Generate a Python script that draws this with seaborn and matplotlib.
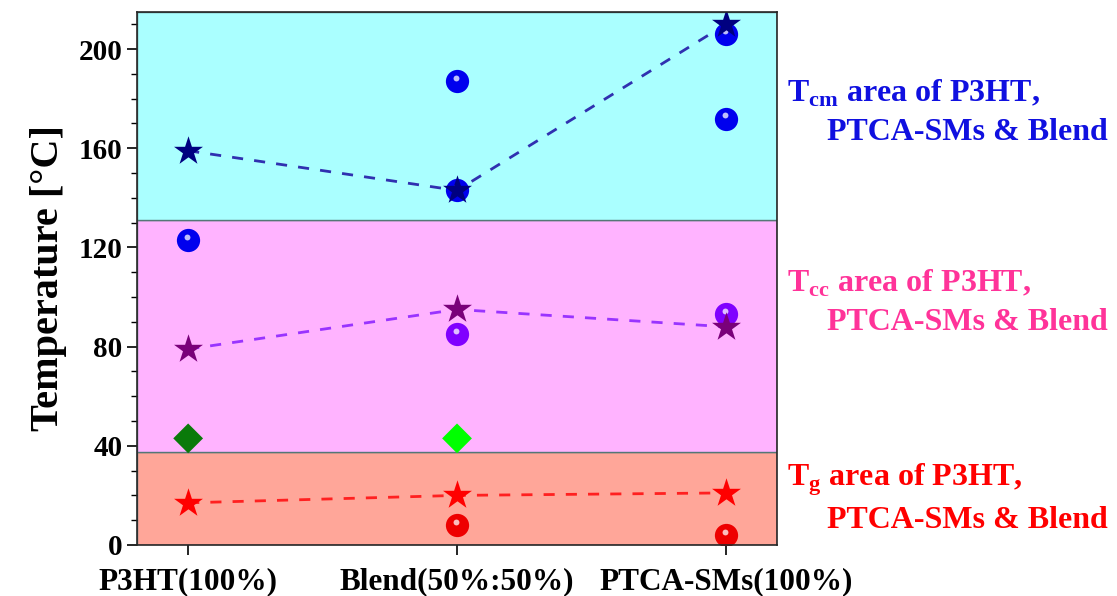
import numpy as np
import pandas as pd
import seaborn as sns
import matplotlib.pyplot as plt


CATEGORIES = ["P3HT(100%)", "Blend(50%:50%)", "PTCA-SMs(100%)"]

# stars joined by dashed lines
TCM_STARS = [159, 143, 210]
TCC_STARS = [79, 95, 88]
TG_STARS = [17, 20, 21]

# sphere markers (category index, value)
BLUE_SPHERE_X = [0, 1, 1, 2, 2]
BLUE_SPHERE_Y = [123, 187, 143, 206, 172]
VIOLET_SPHERE_X = [1, 2]
VIOLET_SPHERE_Y = [85, 93]
RED_SPHERE_X = [1, 2]
RED_SPHERE_Y = [8, 4]

# diamonds
DIAMOND_X = [0, 1]
DIAMOND_Y = [43, 43]
DIAMOND_COLORS = ["#0a7a0a", "#00ff00"]

# temperature bands
BANDS = [(0, 37.5, "#ffa699"), (37.5, 131, "#ffb3ff"), (131, 215, "#aaffff")]

AREA_LABELS = [r"T$_{\mathregular{cm}}$ area of P3HT,", r"T$_{\mathregular{cc}}$ area of P3HT,",
               r"T$_{\mathregular{g}}$ area of P3HT,"]
AREA_COLORS = ["#1010e0", "#ff3399", "#ff0000"]


def sphere(ax, xs, ys, color):
  sns.scatterplot(x=xs, y=ys, ax=ax, color=color, s=280, marker="o",
                  edgecolor=color, linewidth=0, zorder=4)
  hx = np.array(xs, dtype=float) - 0.004
  hy = np.array(ys, dtype=float) + 1.4
  ax.scatter(hx, hy, s=18, color="white", alpha=0.75, linewidth=0, zorder=5)


def main():
  sns.set_style("ticks")
  plt.rcParams["font.family"] = ["Liberation Serif", "DejaVu Serif"]
  plt.rcParams["mathtext.fontset"] = "custom"
  plt.rcParams["mathtext.rm"] = "Liberation Serif:bold"
  plt.rcParams["text.color"] = "black"
  plt.rcParams["axes.labelcolor"] = "black"
  plt.rcParams["xtick.color"] = "black"
  plt.rcParams["ytick.color"] = "black"

  fig = plt.figure(figsize=(11.17, 5.96), dpi=100)
  ax = fig.add_axes([0.1227, 0.0856, 0.5729, 0.8944])

  for lo, hi, c in BANDS:
    ax.axhspan(lo, hi, facecolor=c, edgecolor="#557777", linewidth=1.0, zorder=0)

  x = np.arange(len(CATEGORIES))
  lines = [(TCM_STARS, "#3030b0", "#000080"),
           (TCC_STARS, "#9933ff", "#7a007a"),
           (TG_STARS, "#ff2020", "#ff0000")]
  for vals, lc, sc in lines:
    df = pd.DataFrame({"x": x, "y": vals})
    sns.lineplot(data=df, x="x", y="y", ax=ax, color=lc, linestyle=(0, (4, 4)),
                 linewidth=2, zorder=2)

  sphere(ax, BLUE_SPHERE_X, BLUE_SPHERE_Y, "#0000ee")
  sphere(ax, VIOLET_SPHERE_X, VIOLET_SPHERE_Y, "#8000ff")
  sphere(ax, RED_SPHERE_X, RED_SPHERE_Y, "#ee0000")

  for vals, lc, sc in lines:
    sns.scatterplot(x=x, y=vals, ax=ax, color=sc, marker="*", s=480,
                    linewidth=0, zorder=6)

  sns.scatterplot(x=DIAMOND_X, y=DIAMOND_Y, hue=DIAMOND_X, palette=DIAMOND_COLORS,
                  marker="D", s=230, linewidth=0, ax=ax, legend=False, zorder=6)

  ax.set_xlim(-0.19, 2.19)
  ax.set_ylim(0, 215)
  ax.set_xticks(x)
  ax.set_xticklabels(CATEGORIES, fontsize=22.5, fontweight="bold")
  ax.set_yticks([0, 40, 80, 120, 160, 200])
  ax.set_yticks(np.arange(0, 215, 10), minor=True)
  ax.tick_params(axis="y", labelsize=21, length=7, width=1.2, direction="out")
  ax.tick_params(axis="y", which="minor", length=4, width=1.0)
  ax.tick_params(axis="x", length=7, width=1.2, pad=9)
  for lab in ax.get_yticklabels():
    lab.set_fontweight("bold")
  ax.set_xlabel("")
  ax.set_ylabel("Temperature [°C]", fontsize=29, fontweight="bold", labelpad=8)
  for s in ax.spines.values():
    s.set_linewidth(1.2)
    s.set_zorder(10)

  label_y = [(93, 132), (283, 322), (480, 520)]
  for (y1, y2), lab, c in zip(label_y, AREA_LABELS, AREA_COLORS):
    fig.text(787 / 1117, 1 - y1 / 596, lab, color=c, fontsize=23, fontweight="bold",
             va="center", ha="left")
    fig.text(1108 / 1117, 1 - y2 / 596, "PTCA-SMs & Blend", color=c, fontsize=23,
             fontweight="bold", va="center", ha="right")

  fig.savefig("out.png", dpi=100)


main()
